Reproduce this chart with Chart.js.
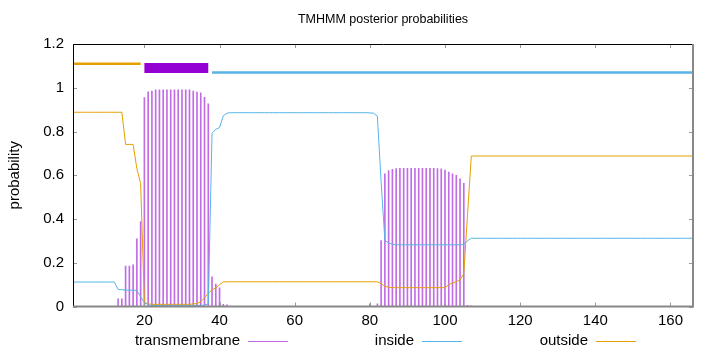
<!DOCTYPE html>
<html>
<head>
<meta charset="utf-8">
<script src="https://cdn.jsdelivr.net/npm/chart.js@4"></script>
<style>
html,body{margin:0;padding:0;background:#fff;}
#wrap{width:720px;height:352px;position:relative;}
</style>
</head>
<body>
<div id="wrap"><canvas id="c" width="720" height="352"></canvas></div>
<script>
// ---- data ----
const chartTitle = 'TMHMM posterior probabilities';
const yAxisTitle = 'probability';
const xTickValues = [20, 40, 60, 80, 100, 120, 140, 160];
const yTickValues = [0, 0.2, 0.4, 0.6, 0.8, 1, 1.2];
const xRange = [1, 166];
const yRange = [0, 1.2];

const positions = [
  1,2,3,4,5,6,7,8,9,10,11,12,13,14,15,16,17,18,19,20,
  21,22,23,24,25,26,27,28,29,30,31,32,33,34,35,36,37,38,39,40,
  41,42,43,44,45,46,47,48,49,50,51,52,53,54,55,56,57,58,59,60,
  61,62,63,64,65,66,67,68,69,70,71,72,73,74,75,76,77,78,79,80,
  81,82,83,84,85,86,87,88,89,90,91,92,93,94,95,96,97,98,99,100,
  101,102,103,104,105,106,107,108,109,110,111,112,113,114,115,116,117,118,119,120,
  121,122,123,124,125,126,127,128,129,130,131,132,133,134,135,136,137,138,139,140,
  141,142,143,144,145,146,147,148,149,150,151,152,153,154,155,156,157,158,159,160,
  161,162,163,164,165,166
];

const transmembrane = [
  0,0,0,0,0,0,0,0,0,0,0,0,0.035,0.035,0.185,0.185,0.19,0.309,0.388,0.955,
  0.981,0.985,0.99,0.99,0.99,0.99,0.99,0.99,0.99,0.99,0.99,0.99,0.985,0.98,0.977,0.956,0.927,0.136,0.103,0.085,
  0.01,0.008,0,0,0,0,0,0,0,0,0,0,0,0,0,0,0,0,0,0,
  0,0,0,0,0,0,0,0,0,0,0,0,0,0,0,0,0,0,0,0.012,
  0,0.012,0.301,0.606,0.621,0.627,0.63,0.632,0.632,0.632,0.632,0.632,0.632,0.632,0.632,0.632,0.632,0.63,0.629,0.624,
  0.615,0.606,0.6,0.584,0.563,0.005,0.003,0,0,0,0,0,0,0,0,0,0,0,0,0,
  0,0,0,0,0,0,0,0,0,0,0,0,0,0,0,0,0,0,0,0,
  0,0,0,0,0,0,0,0,0,0,0,0,0,0,0,0,0,0,0,0,
  0,0,0,0,0,0
];

const inside = [
  0.112,0.112,0.112,0.112,0.112,0.112,0.112,0.112,0.112,0.112,0.112,0.112,0.078,0.077,0.075,0.075,0.075,0.073,0.045,0.018,
  0.008,0.005,0.005,0.005,0.005,0.005,0.005,0.005,0.005,0.005,0.005,0.005,0.005,0.005,0.005,0.006,0.012,0.792,0.81,0.818,
  0.872,0.884,0.886,0.886,0.886,0.886,0.886,0.886,0.886,0.886,0.886,0.886,0.886,0.886,0.886,0.886,0.886,0.886,0.886,0.886,
  0.886,0.886,0.886,0.886,0.886,0.886,0.886,0.886,0.886,0.886,0.886,0.886,0.886,0.886,0.886,0.886,0.886,0.886,0.886,0.885,
  0.884,0.87,0.57,0.302,0.29,0.285,0.282,0.282,0.282,0.282,0.282,0.282,0.282,0.282,0.282,0.282,0.282,0.282,0.282,0.282,
  0.282,0.282,0.282,0.282,0.285,0.3,0.312,0.312,0.312,0.312,0.312,0.312,0.312,0.312,0.312,0.312,0.312,0.312,0.312,0.312,
  0.312,0.312,0.312,0.312,0.312,0.312,0.312,0.312,0.312,0.312,0.312,0.312,0.312,0.312,0.312,0.312,0.312,0.312,0.312,0.312,
  0.312,0.312,0.312,0.312,0.312,0.312,0.312,0.312,0.312,0.312,0.312,0.312,0.312,0.312,0.312,0.312,0.312,0.312,0.312,0.312,
  0.312,0.312,0.312,0.312,0.312,0.312
];

const outside = [
  0.888,0.888,0.888,0.888,0.888,0.888,0.888,0.888,0.888,0.888,0.888,0.888,0.888,0.888,0.741,0.741,0.741,0.63,0.563,0.018,
  0.012,0.01,0.01,0.01,0.01,0.01,0.01,0.01,0.01,0.01,0.01,0.01,0.012,0.013,0.022,0.04,0.06,0.076,0.085,0.1,
  0.112,0.113,0.113,0.113,0.113,0.113,0.113,0.113,0.113,0.113,0.113,0.113,0.113,0.113,0.113,0.113,0.113,0.113,0.113,0.113,
  0.113,0.113,0.113,0.113,0.113,0.113,0.113,0.113,0.113,0.113,0.113,0.113,0.113,0.113,0.113,0.113,0.113,0.113,0.113,0.113,
  0.113,0.113,0.105,0.092,0.088,0.086,0.086,0.086,0.086,0.086,0.086,0.086,0.086,0.086,0.086,0.086,0.086,0.086,0.086,0.086,
  0.1,0.108,0.113,0.122,0.15,0.42,0.688,0.688,0.688,0.688,0.688,0.688,0.688,0.688,0.688,0.688,0.688,0.688,0.688,0.688,
  0.688,0.688,0.688,0.688,0.688,0.688,0.688,0.688,0.688,0.688,0.688,0.688,0.688,0.688,0.688,0.688,0.688,0.688,0.688,0.688,
  0.688,0.688,0.688,0.688,0.688,0.688,0.688,0.688,0.688,0.688,0.688,0.688,0.688,0.688,0.688,0.688,0.688,0.688,0.688,0.688,
  0.688,0.688,0.688,0.688,0.688,0.688
];

// predicted topology segments (top bar)
const topoKind  = ['outside', 'TMhelix', 'inside'];
const topoStart = [1, 20, 38];
const topoEnd   = [19, 37, 166];
const topoLevel = [1.11, 1.09, 1.07];

const seriesLabels = ['transmembrane', 'inside', 'outside'];

// ---- styling ----
const C_TM = 'rgba(148,0,211,0.58)';
const C_TM_BOX = '#9400D3';
const C_IN = '#56B4E9';
const C_OUT = '#E69F00';
const FONT = "'Liberation Sans', Arial, Helvetica, sans-serif";

Chart.defaults.font.family = FONT;
Chart.defaults.font.size = 15;
Chart.defaults.color = '#000';

const pts = arr => positions.map((p, i) => ({ x: p, y: arr[i] }));
const topoColor = { outside: C_OUT, TMhelix: C_TM_BOX, inside: C_IN };
const topoWidth = { outside: 2.5, TMhelix: 10, inside: 2.5 };

const topoDatasets = topoKind.map((k, i) => ({
  type: 'line',
  label: k,
  data: [{ x: topoStart[i], y: topoLevel[i] }, { x: topoEnd[i], y: topoLevel[i] }],
  borderColor: topoColor[k],
  borderWidth: topoWidth[k],
  pointRadius: 0,
  borderCapStyle: 'butt',
  order: 0,
  clip: false
}));

const framePlugin = {
  id: 'gnuFrame',
  afterDatasetsDraw(chart) {
    const { ctx, chartArea: a, scales } = chart;
    ctx.save();
    // inward ticks
    ctx.strokeStyle = '#999';
    ctx.lineWidth = 1;
    const tl = 4;
    xTickValues.forEach(v => {
      const px = Math.round(scales.x.getPixelForValue(v)) + 0.5;
      ctx.beginPath();
      ctx.moveTo(px, a.bottom); ctx.lineTo(px, a.bottom - tl);
      ctx.moveTo(px, a.top); ctx.lineTo(px, a.top + tl);
      ctx.stroke();
    });
    yTickValues.forEach(v => {
      const py = Math.round(scales.y.getPixelForValue(v)) + 0.5;
      ctx.beginPath();
      ctx.moveTo(a.left, py); ctx.lineTo(a.left + tl, py);
      ctx.moveTo(a.right, py); ctx.lineTo(a.right - tl, py);
      ctx.stroke();
    });
    // border
    ctx.strokeStyle = '#000';
    ctx.lineWidth = 1;
    ctx.beginPath();
    ctx.moveTo(a.left + 0.5, a.bottom); ctx.lineTo(a.left + 0.5, a.top + 0.5); ctx.lineTo(a.right, a.top + 0.5);
    ctx.stroke();
    ctx.strokeStyle = '#888';
    ctx.lineWidth = 2;
    ctx.beginPath();
    ctx.moveTo(a.left, a.bottom); ctx.lineTo(a.right, a.bottom); ctx.lineTo(a.right, a.top);
    ctx.stroke();
    ctx.restore();
  },
  afterDraw(chart) {
    const { ctx, chartArea: a } = chart;
    ctx.save();
    // title
    ctx.fillStyle = '#000';
    ctx.font = '12.5px ' + FONT;
    ctx.textAlign = 'center';
    ctx.textBaseline = 'middle';
    ctx.fillText(chartTitle, (a.left + a.right) / 2, 20);
    // legend (gnuplot style: text, then sample line)
    ctx.font = '15px ' + FONT;
    ctx.textAlign = 'right';
    const colors = [C_TM, C_IN, C_OUT];
    const y = 341;
    seriesLabels.forEach((lab, i) => {
      const end = a.left + 215 + i * 174;
      const start = end - 40;
      ctx.fillStyle = '#000';
      ctx.fillText(lab, start - 8, y);
      ctx.strokeStyle = colors[i];
      ctx.lineWidth = 1;
      ctx.beginPath();
      ctx.moveTo(start, y + 0.5); ctx.lineTo(end, y + 0.5);
      ctx.stroke();
    });
    ctx.restore();
  }
};

new Chart(document.getElementById('c'), {
  type: 'bar',
  data: {
    datasets: [
      {
        type: 'line', label: seriesLabels[1], data: pts(inside),
        borderColor: C_IN, borderWidth: 1, pointRadius: 0, tension: 0, order: 0
      },
      {
        type: 'line', label: seriesLabels[2], data: pts(outside),
        borderColor: C_OUT, borderWidth: 1, pointRadius: 0, tension: 0, order: 0
      },
      ...topoDatasets,
      {
        type: 'bar', label: seriesLabels[0], data: pts(transmembrane),
        backgroundColor: C_TM, borderWidth: 0, barThickness: 1, grouped: false, order: 1
      }
    ]
  },
  options: {
    responsive: false,
    animation: false,
    devicePixelRatio: 1,
    layout: { padding: { left: 0, right: 27, top: 44, bottom: 0 } },
    plugins: { legend: { display: false }, title: { display: false }, tooltip: { enabled: false } },
    scales: {
      x: {
        type: 'linear', min: xRange[0], max: xRange[1], offset: false,
        grid: { display: false, drawTicks: false, offset: false },
        border: { display: false },
        ticks: { padding: 5, font: { size: 15 }, callback: v => String(v) },
        afterBuildTicks: s => { s.ticks = xTickValues.map(v => ({ value: v })); },
        afterFit: s => { s.height = 352 - 306.5; }
      },
      y: {
        type: 'linear', min: yRange[0], max: yRange[1],
        grid: { display: false, drawTicks: false },
        border: { display: false },
        ticks: { padding: 9, font: { size: 15 }, callback: v => String(+(+v).toFixed(1)) },
        afterBuildTicks: s => { s.ticks = yTickValues.map(v => ({ value: v })); },
        afterFit: s => { s.width = 73; },
        title: { display: true, text: yAxisTitle, font: { size: 15 }, padding: { top: 6, bottom: 0 } }
      }
    }
  },
  plugins: [framePlugin]
});
</script>
</body>
</html>
